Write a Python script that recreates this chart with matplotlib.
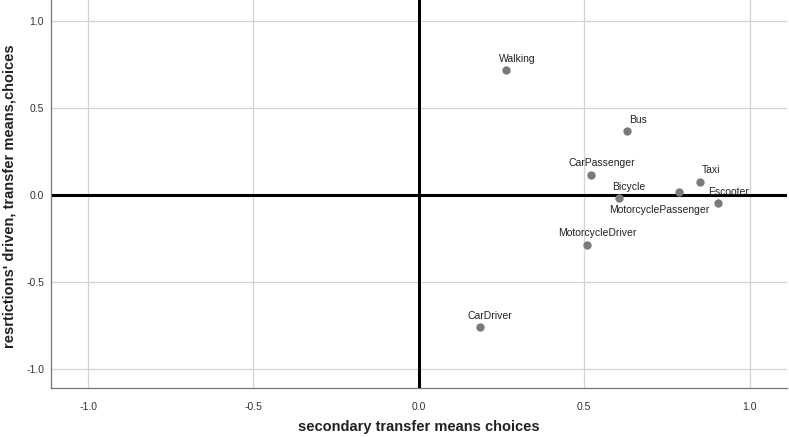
import matplotlib
matplotlib.use("Agg")
import matplotlib.pyplot as plt

plt.rcParams['font.family'] = ['Liberation Sans', 'DejaVu Sans']

modes = ['Walking', 'Bus', 'CarPassenger', 'Taxi', 'MotorcyclePassenger',
         'Bicycle', 'Escooter', 'MotorcycleDriver', 'CarDriver']
secondary = [0.265, 0.630, 0.520, 0.851, 0.787, 0.604, 0.904, 0.507, 0.184]
restrictions = [0.717, 0.366, 0.115, 0.074, 0.016, -0.020, -0.049, -0.287, -0.761]

ticks = [-1.0, -0.5, 0.0, 0.5, 1.0]
tick_labels = ['-1.0', '-0.5', '0.0', '0.5', '1.0']

fig = plt.figure(figsize=(7.89, 4.37), dpi=100)
ax = fig.add_axes([51 / 789, 49 / 437, 736 / 789, 388 / 437])

ax.set_xlim(-1.112, 1.113)
ax.set_ylim(-1.11, 1.12)
ax.set_xticks(ticks)
ax.set_yticks(ticks)
ax.set_xticklabels(tick_labels)
ax.set_yticklabels(tick_labels)
ax.grid(True, color='#d4d4d4', linewidth=0.9)
ax.set_axisbelow(True)
ax.tick_params(length=0, labelsize=7.5, colors='#333333')
ax.tick_params(axis='x', pad=10)
ax.tick_params(axis='y', pad=5)

for s in ['top', 'right']:
    ax.spines[s].set_visible(False)
for s in ['left', 'bottom']:
    ax.spines[s].set_color('#777777')
    ax.spines[s].set_linewidth(0.9)

ax.axhline(0, color='black', linewidth=2.2, zorder=2)
ax.axvline(0, color='black', linewidth=2.2, zorder=2)

ax.scatter(secondary, restrictions, s=36, color='#7a7a7a', zorder=3, linewidths=0)

for name, x, y in zip(modes, secondary, restrictions):
    if name == 'MotorcyclePassenger':
        off = (-20, -18)
    else:
        off = (10.5, 11.5)
    ax.annotate(name, (x, y), xytext=off, textcoords='offset pixels',
                ha='center', va='center', fontsize=7.5, color='#222222', zorder=4)

# axis titles placed in figure coords, as in the original layout
fig.text(419 / 789, 1 - 427 / 437, 'secondary transfer means choices',
         ha='center', va='center', fontsize=10.5, fontweight='bold', color='#222222')
fig.text(10 / 789, 1 - 196 / 437, "resrtictions' driven, transfer means,choices",
         ha='center', va='center', rotation=90, fontsize=10.5, fontweight='bold',
         color='#222222')

fig.savefig('out.png', dpi=100)
